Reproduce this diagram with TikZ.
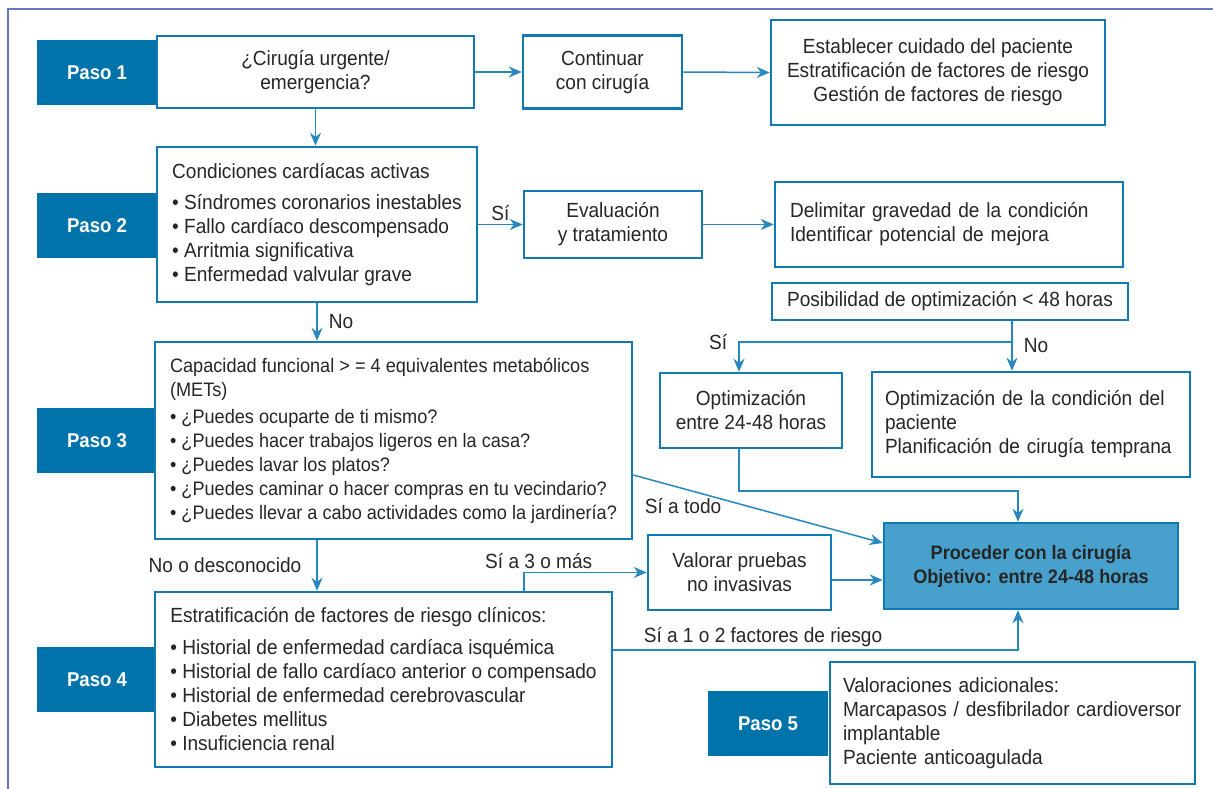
\documentclass[tikz,border=0pt]{standalone}
\usepackage{fontspec}
\setmainfont{Liberation Sans}[FakeStretch=0.93]
\definecolor{pasoblue}{RGB}{0,116,170}
\definecolor{boxblue}{RGB}{18,122,178}
\definecolor{lineblue}{RGB}{40,135,190}
\definecolor{goalblue}{RGB}{72,160,204}
\definecolor{framecol}{RGB}{100,120,200}
\definecolor{ink}{RGB}{38,38,38}
\usetikzlibrary{arrows.meta, positioning}

\begin{document}
\begin{tikzpicture}[x=1pt, y=-1pt,
  stepbox/.style={fill=pasoblue, text=white, font=\bfseries\fontsize{20}{23}\selectfont, minimum width=120pt, minimum height=65pt},
  box/.style={draw=boxblue, line width=2.5pt, fill=white, text=ink, align=center, font=\fontsize{20.5}{24}\selectfont, inner sep=0pt},
  boxl/.style={box, align=left, inner xsep=15pt},
  goal/.style={box, fill=goalblue, text=black!85, font=\bfseries\fontsize{19.5}{24}\selectfont},
  arr/.style={draw=lineblue, line width=1.5pt, -{Stealth[length=13pt, width=11pt]}},
  lbl/.style={text=ink, font=\fontsize{20.5}{24}\selectfont, inner sep=3pt}
]
\useasboundingbox (0,0) rectangle (1213,789);
\draw[framecol, line width=1.5pt] (8,789) -- (8,9) -- (1213,9);

% pasos
\node[stepbox] (p1) at (97,72.5) {Paso 1};
\node[stepbox] (p2) at (97,225.5) {Paso 2};
\node[stepbox] (p3) at (97,440.5) {Paso 3};
\node[stepbox] (p4) at (97,679.5) {Paso 4};
\node[stepbox] (p5) at (768,723.5) {Paso 5};

% fila 1
\node[box, minimum width=317pt, minimum height=72pt] (urg) at (315.5,72) {¿Cirugía urgente/\\emergencia?};
\node[box, minimum width=159pt, minimum height=73pt] (cont) at (602.5,72) {Continuar\\con cirugía};
\node[box, minimum width=334pt, minimum height=105pt] (care) at (938,72.5) {Establecer cuidado del paciente\\Estratificación de factores de riesgo\\Gestión de factores de riesgo};

% fila 2
\node[boxl, minimum width=320pt, minimum height=155pt] (cond) at (317,224.5) {Condiciones cardíacas activas\\[7pt]
  \textbullet{} Síndromes coronarios inestables\\
  \textbullet{} Fallo cardíaco descompensado\\
  \textbullet{} Arritmia significativa\\
  \textbullet{} Enfermedad valvular grave};
\node[box, minimum width=178pt, minimum height=67pt] (eval) at (613,224.5) {Evaluación\\y tratamiento};
\node[boxl, text width=318pt, minimum height=85pt] (delim) at (949,224.5) {Delimitar gravedad de la condición\\Identificar potencial de mejora};
\node[boxl, minimum width=350pt, minimum height=37pt] (posib) at (950,301.5) {Posibilidad de optimización < 48 horas};
\node[box, minimum width=182pt, minimum height=75pt] (opt48) at (751,410.5) {Optimización\\entre 24-48 horas};
\node[boxl, inner xsep=13pt, text width=292pt, minimum height=105pt] (optcond) at (1031,424.5) {Optimización de la condición del\\paciente\\Planificación de cirugía temprana};

% paso 3
\node[boxl, minimum width=473pt, minimum height=197pt, font=\fontsize{19.5}{24}\selectfont] (cap) at (393.5,440.5) {Capacidad funcional > = 4 equivalentes metabólicos\\(METs)\\[3pt]
  \textbullet{} ¿Puedes ocuparte de ti mismo?\\
  \textbullet{} ¿Puedes hacer trabajos ligeros en la casa?\\
  \textbullet{} ¿Puedes lavar los platos?\\
  \textbullet{} ¿Puedes caminar o hacer compras en tu vecindario?\\
  \textbullet{} ¿Puedes llevar a cabo actividades como la jardinería?};
\node[goal, minimum width=294pt, minimum height=86pt] (proc) at (1031,566) {Proceder con la cirugía\\Objetivo: entre 24-48 horas};
\node[box, minimum width=183pt, minimum height=75pt] (val) at (739.5,572.5) {Valorar pruebas\\no invasivas};

% paso 4 y 5
\node[boxl, minimum width=457pt, minimum height=175pt] (est) at (383.5,679.5) {Estratificación de factores de riesgo clínicos:\\[8pt]
  \textbullet{} Historial de enfermedad cardíaca isquémica\\
  \textbullet{} Historial de fallo cardíaco anterior o compensado\\
  \textbullet{} Historial de enfermedad cerebrovascular\\
  \textbullet{} Diabetes mellitus\\
  \textbullet{} Insuficiencia renal};
\node[boxl, inner xsep=13pt, text width=339pt, minimum height=122pt] (add) at (1012.5,723) {Valoraciones adicionales:\\Marcapasos / desfibrilador cardioversor\\implantable\\Paciente anticoagulada};

\coordinate (fork) at (1012,342);
\coordinate (o1) at (739,491);
\coordinate (o2) at (1018,491);

\draw[arr] (urg.east) -- (cont.west);
\draw[arr] (cont.east) -- (care.west);
\draw[arr] (urg.south) -- (urg.south |- cond.north);
\draw[arr] (cond.east) -- node[lbl, above] (lsi1) {Sí} (eval.west);
\draw[arr] (eval.east) -- (delim.west);
\draw[arr] (cond.south) -- node[lbl, right, xshift=8pt] (lno1) {No} (cond.south |- cap.north);
\draw[arr] (posib.south -| fork) -- node[lbl, right, xshift=8pt] (lno2) {No} (optcond.north -| fork);
\draw[arr] (fork) -| node[lbl, left, pos=0.5, xshift=-8pt] (lsi2) {Sí} (opt48.north -| o1);
\draw[arr] (opt48.south -| o1) |- (o2) -- (proc.north -| o2);
\draw[arr] (cap.east |- 0,475) -- node[lbl, below, pos=0.2, yshift=-6pt] (lall) {Sí a todo} (proc.west |- 0,543);
\draw[arr] (cap.south -| cond.south) -- node[lbl, left, xshift=-12pt] (lunk) {No o desconocido} (est.north -| cond.south);
\draw[arr] (est.north -| 524,0) |- node[lbl, above, pos=0.56] (l3) {Sí a 3 o más} (val.west);
\draw[arr] (val.east |- 0,580) -- (proc.west |- 0,580);
\draw[arr] (est.east |- 0,650) -| node[lbl, above, pos=0.185] (l12) {Sí a 1 o 2 factores de riesgo} (proc.south -| o2);

\end{tikzpicture}
\end{document}
